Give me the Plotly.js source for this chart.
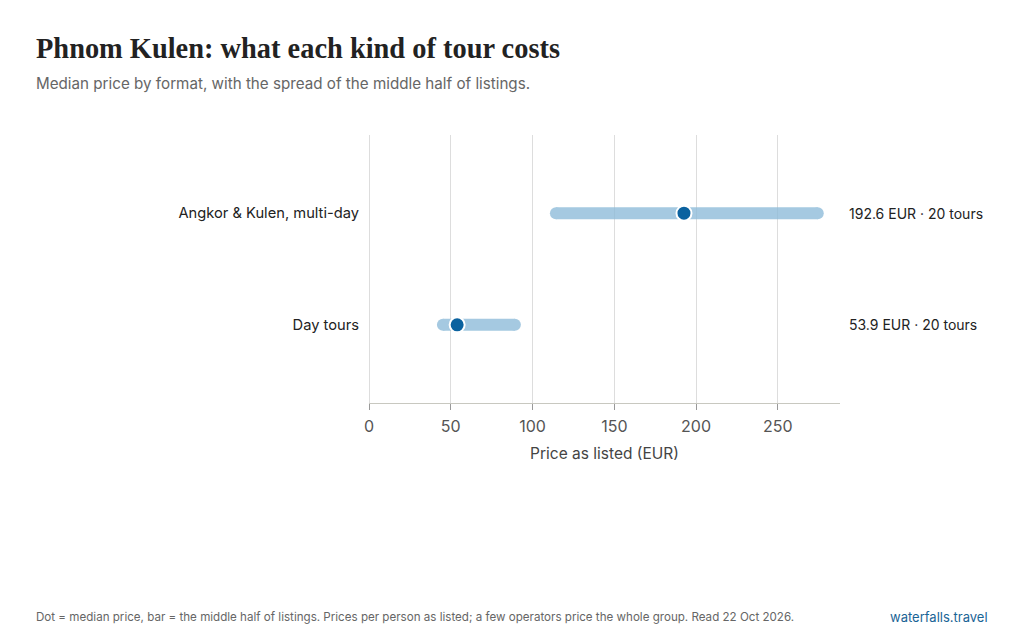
<!DOCTYPE html>
<html>
<head>
<meta charset="utf-8">
<script src="https://cdn.plot.ly/plotly-3.0.1.min.js"></script>
<style>
  html, body { margin: 0; padding: 0; background: #fff; }
  #chart { width: 1024px; height: 640px; }
</style>
</head>
<body>
<div id="chart"></div>
<script>
const categories = ["Day tours", "Angkor & Kulen, multi-day"];
const q1Price = [45.2, 114.3];
const medianPrice = [53.9, 192.6];
const q3Price = [89.2, 274.4];
const tourCounts = [20, 20];
const tickValues = [0, 50, 100, 150, 200, 250];

const barColor = "#8dbbd9";
const dotColor = "#0b629f";
const font = "Inter, 'Open Sans', sans-serif";
const PW = 471, PH = 268, L = 369, T = 135;
const px = (p) => (p - L) / PW;
const py = (p) => 1 - (p - T) / PH;

const traces = [];
categories.forEach((c, i) => {
  traces.push({
    type: "scatter",
    mode: "lines+markers",
    x: [q1Price[i], q3Price[i]],
    y: [c, c],
    line: { color: barColor, width: 12 },
    marker: { color: barColor, size: 12, line: { width: 0 } },
    opacity: 0.78,
    hoverinfo: "skip",
    showlegend: false
  });
});
traces.push({
  type: "scatter",
  mode: "markers",
  x: medianPrice,
  y: categories,
  marker: { color: dotColor, size: 15, line: { color: "#ffffff", width: 2 } },
  showlegend: false
});

const annotations = categories.map((c, i) => ({
  xref: "paper", yref: "y",
  x: 1, y: c,
  xanchor: "left", yanchor: "middle",
  xshift: 7,
  text: medianPrice[i].toFixed(1) + " EUR · " + tourCounts[i] + " tours",
  showarrow: false,
  font: { family: font, size: 14, color: "#222" }
}));

annotations.push({
  xref: "paper", yref: "paper", x: px(36), y: py(48),
  xanchor: "left", yanchor: "middle", showarrow: false, xshift: -2,
  text: "Phnom Kulen: what each kind of tour costs",
  font: { family: "'Liberation Serif', 'DejaVu Serif', serif", size: 28.4, color: "#222", weight: 700 }
});
annotations.push({
  xref: "paper", yref: "paper", x: px(36), y: py(83),
  xanchor: "left", yanchor: "middle", showarrow: false, xshift: -2,
  text: "Median price by format, with the spread of the middle half of listings.",
  font: { family: font, size: 15.2, color: "#666" }
});
annotations.push({
  xref: "paper", yref: "paper", x: px(36), y: py(617),
  xanchor: "left", yanchor: "middle", showarrow: false, xshift: -2,
  text: "Dot = median price, bar = the middle half of listings. Prices per person as listed; a few operators price the whole group. Read 22 Oct 2026.",
  font: { family: font, size: 11.6, color: "#666" }
});
annotations.push({
  xref: "paper", yref: "paper", x: px(988), y: py(617),
  xanchor: "right", yanchor: "middle", showarrow: false, xshift: 2,
  text: "waterfalls.travel",
  font: { family: font, size: 13, color: "#1a6496" }
});

const layout = {
  width: 1024, height: 640,
  margin: { l: L, r: 1024 - L - PW, t: T, b: 640 - T - PH },
  paper_bgcolor: "#fff", plot_bgcolor: "#fff",
  font: { family: font, color: "#444" },
  xaxis: {
    range: [0, 288],
    tickvals: tickValues,
    ticktext: tickValues.map(String),
    showgrid: true, gridcolor: "#dddddd", gridwidth: 1,
    zeroline: true, zerolinecolor: "#dddddd", zerolinewidth: 1,
    showline: true, linecolor: "#c8c8c0", linewidth: 1,
    ticks: "outside", ticklen: 6, tickcolor: "#999",
    ticklabelstandoff: 3,
    tickfont: { family: font, size: 16, color: "#555" },
    title: { text: "Price as listed (EUR)", font: { family: font, size: 15.5, color: "#444" }, standoff: 12 },
    fixedrange: true
  },
  yaxis: {
    type: "category",
    categoryorder: "array", categoryarray: categories,
    range: [-0.7, 1.7],
    showgrid: false, zeroline: false, showline: false,
    ticks: "", ticklabelstandoff: 9,
    tickfont: { family: font, size: 14.7, color: "#222" },
    fixedrange: true
  },
  annotations: annotations,
  hovermode: false
};

Plotly.newPlot("chart", traces, layout, { displayModeBar: false, staticPlot: true });
</script>
</body>
</html>
